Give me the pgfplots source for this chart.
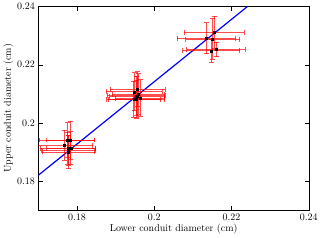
\documentclass[border=0pt]{standalone}
\usepackage{pgfplots}
\pgfplotsset{compat=1.18}
\usepackage{pgfplotstable}
\pgfplotstableread{
x y ex ey
0.1767 0.1923 0.0074 0.0052
0.1774 0.1941 0.0072 0.0060
0.1782 0.1941 0.0062 0.0065
0.1776 0.1913 0.0072 0.0055
0.1778 0.1906 0.0070 0.0052
0.1778 0.1900 0.0068 0.0058
0.1784 0.1913 0.0063 0.0056
0.1948 0.2107 0.0072 0.0065
0.1957 0.2116 0.0071 0.0060
0.1953 0.2093 0.0075 0.0068
0.1959 0.2099 0.0068 0.0070
0.1947 0.2081 0.0070 0.0062
0.1953 0.2081 0.0072 0.0066
0.1963 0.2085 0.0064 0.0063
0.1955 0.2090 0.0070 0.0070
0.2135 0.2291 0.0075 0.0053
0.2155 0.2311 0.0077 0.0055
0.2151 0.2288 0.0070 0.0070
0.2147 0.2248 0.0074 0.0040
0.2160 0.2252 0.0076 0.0025
}\datatable
\begin{document}
\begin{tikzpicture}
\begin{axis}[
  scale only axis,
  width=271pt, height=204pt,
  xmin=0.17, xmax=0.24, ymin=0.17, ymax=0.24,
  xtick={0.18,0.2,0.22,0.24},
  ytick={0.18,0.2,0.22,0.24},
  tick align=inside,
  xtick pos=both, ytick pos=both,
  xlabel={Lower conduit diameter (cm)},
  ylabel={Upper conduit diameter (cm)},
  xlabel style={yshift=3pt},
  ylabel style={yshift=-3pt},
  tick style={black},
]
\addplot[blue, line width=1.2pt] coordinates {(0.17,0.182) (0.2241,0.24)};
\addplot[only marks, mark=square*, mark size=1pt, black,
  error bars/.cd, x dir=both, y dir=both, x explicit, y explicit,
  error bar style={red, opacity=0.7, line width=0.8pt},
  error mark options={rotate=90, red, opacity=0.7, mark size=2.5pt, line width=0.8pt}]
  table[x=x, y=y, x error=ex, y error=ey] {\datatable};
\end{axis}
\end{tikzpicture}
\end{document}
